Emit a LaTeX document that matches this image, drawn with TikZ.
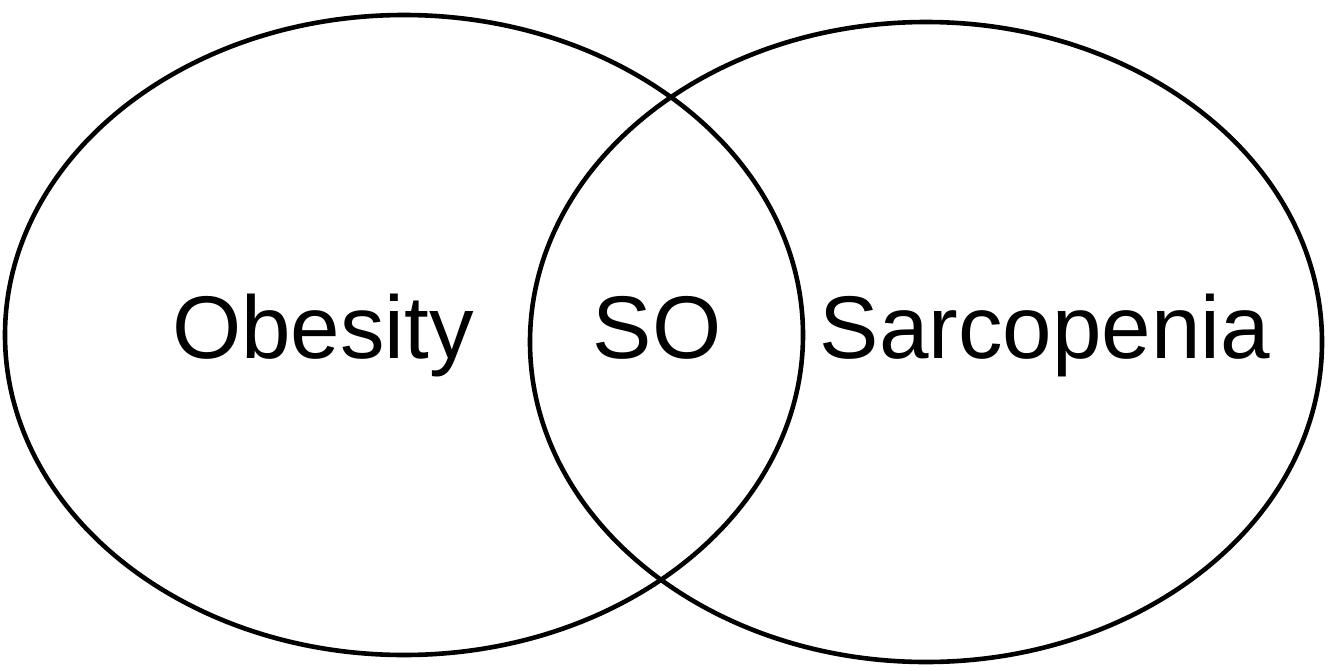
\documentclass[tikz,border=0pt]{standalone}
\usepackage{fontspec}
\setmainfont{Liberation Sans}
\tikzset{
  setline/.style={line width=4.6pt},
  setlabel/.style={inner sep=0pt, anchor=base, font=\fontsize{89}{93}\selectfont}
}
\begin{document}
\begin{tikzpicture}[x=1pt, y=-1pt]
\useasboundingbox (0,0) rectangle (1328,670);
% the two sets
\draw[setline] (404,335) ellipse (399 and 320);
\draw[setline] (926,342) ellipse (396 and 320);
% labels
\node[setlabel] (obesity) at (323,358) {Obesity};
\node[setlabel] (so) at (657,358) {SO};
\node[setlabel] (sarcopenia) at (1045,358) {Sarcopenia};
\end{tikzpicture}
\end{document}
